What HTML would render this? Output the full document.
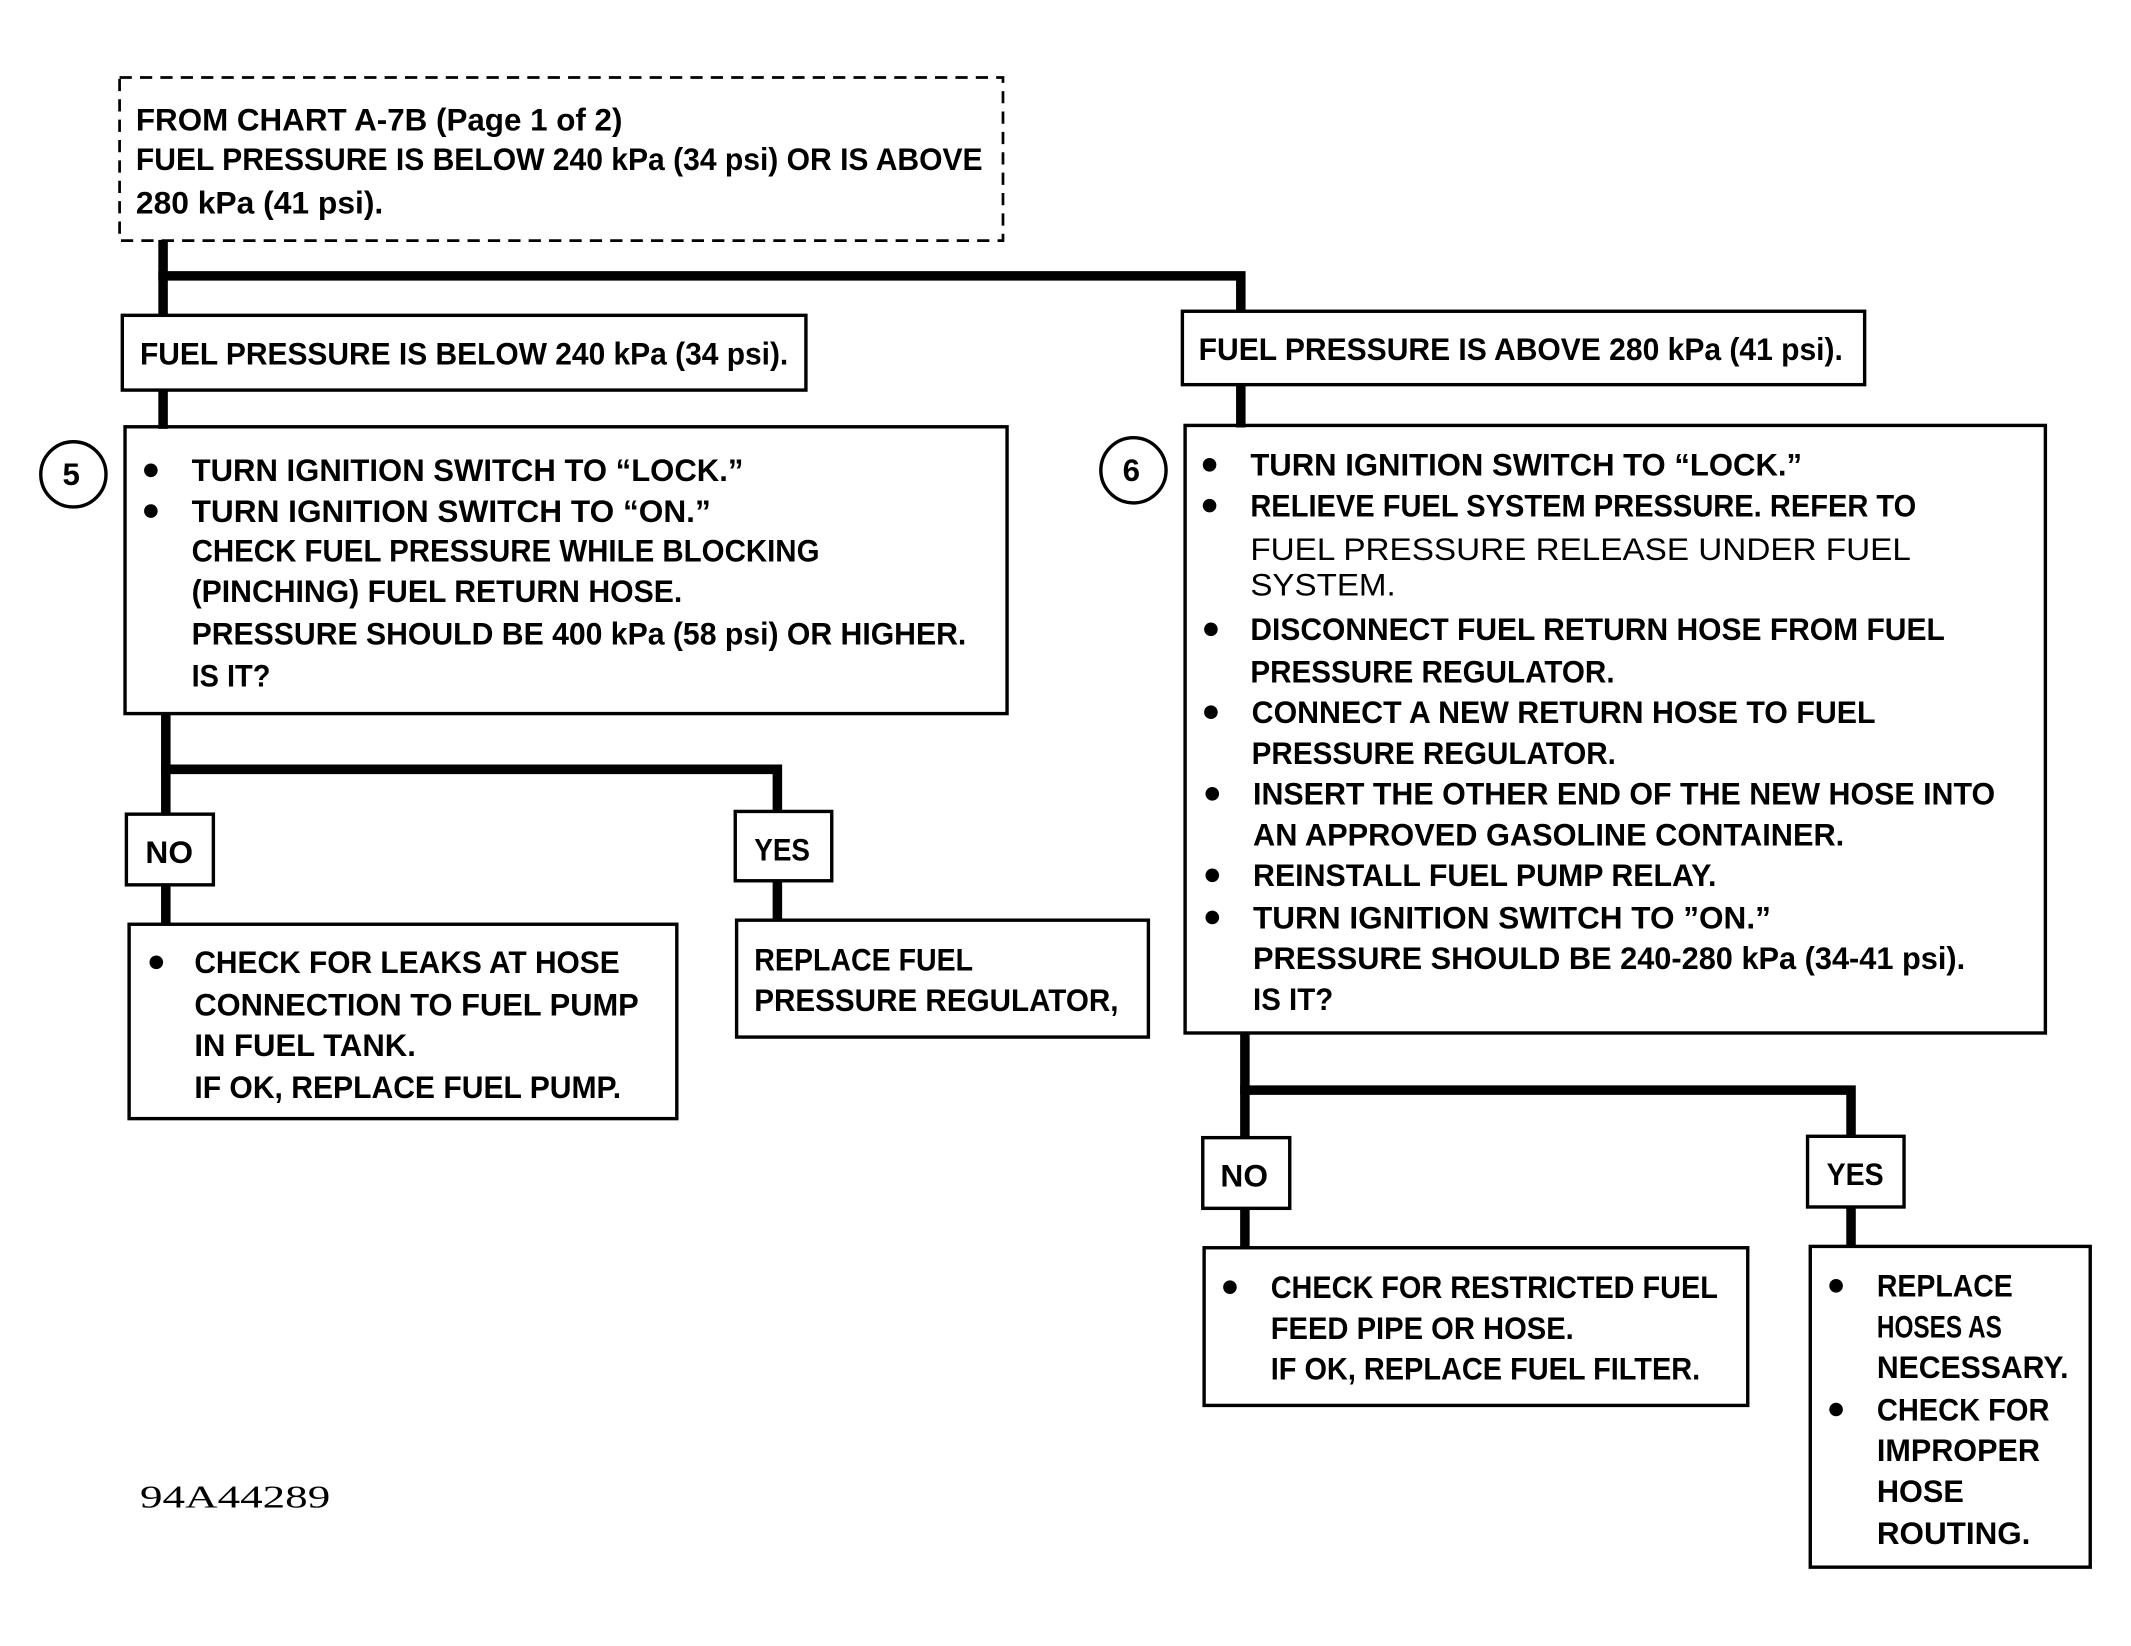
<!DOCTYPE html>
<html><head><meta charset="utf-8"><style>
html,body{margin:0;padding:0;background:#fff}
svg{display:block}
text{font-family:"Liberation Sans",sans-serif;font-weight:bold;font-size:23px;fill:#000}
.n{font-weight:normal}
</style></head><body>
<svg width="2131" height="1646" viewBox="0 0 1568 1211" preserveAspectRatio="none" xmlns="http://www.w3.org/2000/svg">
<g fill="none" stroke="#000">
<rect x="88" y="57" width="650" height="120" stroke-width="2" stroke-dasharray="9,6"/>
<g stroke-width="2.5">
<rect x="90" y="232" width="503" height="55"/>
<rect x="870" y="229" width="502" height="54"/>
<rect x="92" y="314" width="649" height="211"/>
<rect x="872" y="313" width="633" height="447"/>
<rect x="93" y="599" width="64" height="52"/>
<rect x="541" y="597" width="71" height="51"/>
<rect x="95" y="680" width="403" height="143"/>
<rect x="542" y="677" width="303" height="86"/>
<rect x="885" y="837" width="64" height="52"/>
<rect x="1330" y="836" width="71" height="52"/>
<rect x="886" y="918" width="400" height="116"/>
<rect x="1332" y="917" width="206" height="236"/>
<circle cx="54" cy="349" r="24"/>
<circle cx="834" cy="346" r="24"/>
</g>
<g stroke-width="7" stroke-linecap="square">
<polyline points="120,180 120,229"/>
<polyline points="120,203 913,203 913,226"/>
<polyline points="120,290 120,312"/>
<polyline points="913,286 913,311"/>
<polyline points="122,528 122,596"/>
<polyline points="122,566 572,566 572,594"/>
<polyline points="122,654 122,677"/>
<polyline points="572,651 572,674"/>
<polyline points="916,763 916,834"/>
<polyline points="916,802 1362,802 1362,833"/>
<polyline points="916,892 916,915"/>
<polyline points="1362,891 1362,914"/>
</g>
</g>
<g fill="#000">
<circle cx="111" cy="346" r="5"/><circle cx="111" cy="376" r="5"/>
<circle cx="890" cy="342" r="5"/><circle cx="890" cy="372" r="5"/><circle cx="891" cy="463" r="5"/><circle cx="891" cy="524" r="5"/><circle cx="892" cy="584" r="5"/><circle cx="892" cy="644" r="5"/><circle cx="892" cy="675" r="5"/>
<circle cx="115" cy="708" r="5"/>
<circle cx="905" cy="947" r="5"/>
<circle cx="1351" cy="946" r="5"/><circle cx="1351" cy="1037" r="5"/>
</g>
<g>
<text x="100" y="96" textLength="358" lengthAdjust="spacingAndGlyphs">FROM CHART A-7B (Page 1 of 2)</text>
<text x="100" y="125" textLength="623" lengthAdjust="spacingAndGlyphs">FUEL PRESSURE IS BELOW 240 kPa (34 psi) OR IS ABOVE</text>
<text x="100" y="157" textLength="182" lengthAdjust="spacingAndGlyphs">280 kPa (41 psi).</text>
<text x="103" y="268" textLength="477" lengthAdjust="spacingAndGlyphs">FUEL PRESSURE IS BELOW 240 kPa (34 psi).</text>
<text x="882" y="265" textLength="474" lengthAdjust="spacingAndGlyphs">FUEL PRESSURE IS ABOVE 280 kPa (41 psi).</text>
<text x="46" y="357" font-size="20">5</text>
<text x="826" y="354" font-size="20">6</text>
<text x="141" y="354" textLength="406" lengthAdjust="spacingAndGlyphs">TURN IGNITION SWITCH TO “LOCK.”</text>
<text x="141" y="384" textLength="382" lengthAdjust="spacingAndGlyphs">TURN IGNITION SWITCH TO “ON.”</text>
<text x="141" y="413" textLength="462" lengthAdjust="spacingAndGlyphs">CHECK FUEL PRESSURE WHILE BLOCKING</text>
<text x="141" y="443" textLength="361" lengthAdjust="spacingAndGlyphs">(PINCHING) FUEL RETURN HOSE.</text>
<text x="141" y="474" textLength="570" lengthAdjust="spacingAndGlyphs">PRESSURE SHOULD BE 400 kPa (58 psi) OR HIGHER.</text>
<text x="141" y="505" textLength="58" lengthAdjust="spacingAndGlyphs">IS IT?</text>
<text x="920" y="350" textLength="406" lengthAdjust="spacingAndGlyphs">TURN IGNITION SWITCH TO “LOCK.”</text>
<text x="920" y="380" textLength="490" lengthAdjust="spacingAndGlyphs">RELIEVE FUEL SYSTEM PRESSURE. REFER TO</text>
<text class="n" x="920" y="412" textLength="486" lengthAdjust="spacingAndGlyphs">FUEL PRESSURE RELEASE UNDER FUEL</text>
<text class="n" x="920" y="438" textLength="107" lengthAdjust="spacingAndGlyphs">SYSTEM.</text>
<text x="920" y="471" textLength="511" lengthAdjust="spacingAndGlyphs">DISCONNECT FUEL RETURN HOSE FROM FUEL</text>
<text x="920" y="502" textLength="268" lengthAdjust="spacingAndGlyphs">PRESSURE REGULATOR.</text>
<text x="921" y="532" textLength="459" lengthAdjust="spacingAndGlyphs">CONNECT A NEW RETURN HOSE TO FUEL</text>
<text x="921" y="562" textLength="268" lengthAdjust="spacingAndGlyphs">PRESSURE REGULATOR.</text>
<text x="922" y="592" textLength="546" lengthAdjust="spacingAndGlyphs">INSERT THE OTHER END OF THE NEW HOSE INTO</text>
<text x="922" y="622" textLength="435" lengthAdjust="spacingAndGlyphs">AN APPROVED GASOLINE CONTAINER.</text>
<text x="922" y="652" textLength="341" lengthAdjust="spacingAndGlyphs">REINSTALL FUEL PUMP RELAY.</text>
<text x="922" y="683" textLength="381" lengthAdjust="spacingAndGlyphs">TURN IGNITION SWITCH TO ”ON.”</text>
<text x="922" y="713" textLength="524" lengthAdjust="spacingAndGlyphs">PRESSURE SHOULD BE 240-280 kPa (34-41 psi).</text>
<text x="922" y="743" textLength="59" lengthAdjust="spacingAndGlyphs">IS IT?</text>
<text x="107" y="635" textLength="35" lengthAdjust="spacingAndGlyphs">NO</text>
<text x="555" y="633" textLength="41" lengthAdjust="spacingAndGlyphs">YES</text>
<text x="143" y="716" textLength="313" lengthAdjust="spacingAndGlyphs">CHECK FOR LEAKS AT HOSE</text>
<text x="143" y="747" textLength="327" lengthAdjust="spacingAndGlyphs">CONNECTION TO FUEL PUMP</text>
<text x="143" y="777" textLength="163" lengthAdjust="spacingAndGlyphs">IN FUEL TANK.</text>
<text x="143" y="808" textLength="314" lengthAdjust="spacingAndGlyphs">IF OK, REPLACE FUEL PUMP.</text>
<text x="555" y="714" textLength="161" lengthAdjust="spacingAndGlyphs">REPLACE FUEL</text>
<text x="555" y="744" textLength="268" lengthAdjust="spacingAndGlyphs">PRESSURE REGULATOR,</text>
<text x="898" y="873" textLength="35" lengthAdjust="spacingAndGlyphs">NO</text>
<text x="1344" y="872" textLength="42" lengthAdjust="spacingAndGlyphs">YES</text>
<text x="935" y="955" textLength="329" lengthAdjust="spacingAndGlyphs">CHECK FOR RESTRICTED FUEL</text>
<text x="935" y="985" textLength="223" lengthAdjust="spacingAndGlyphs">FEED PIPE OR HOSE.</text>
<text x="935" y="1015" textLength="316" lengthAdjust="spacingAndGlyphs">IF OK, REPLACE FUEL FILTER.</text>
<text x="1381" y="954" textLength="100" lengthAdjust="spacingAndGlyphs">REPLACE</text>
<text x="1381" y="984" textLength="92" lengthAdjust="spacingAndGlyphs">HOSES AS</text>
<text x="1381" y="1014" textLength="141" lengthAdjust="spacingAndGlyphs">NECESSARY.</text>
<text x="1381" y="1045" textLength="127" lengthAdjust="spacingAndGlyphs">CHECK FOR</text>
<text x="1381" y="1075" textLength="120" lengthAdjust="spacingAndGlyphs">IMPROPER</text>
<text x="1381" y="1105" textLength="64" lengthAdjust="spacingAndGlyphs">HOSE</text>
<text x="1381" y="1136" textLength="113" lengthAdjust="spacingAndGlyphs">ROUTING.</text>
<text class="n" x="103" y="1109" font-size="30" style="font-family:'Liberation Serif',serif" textLength="140" lengthAdjust="spacingAndGlyphs">94A44289</text>
</g>
</svg>
</body></html>
